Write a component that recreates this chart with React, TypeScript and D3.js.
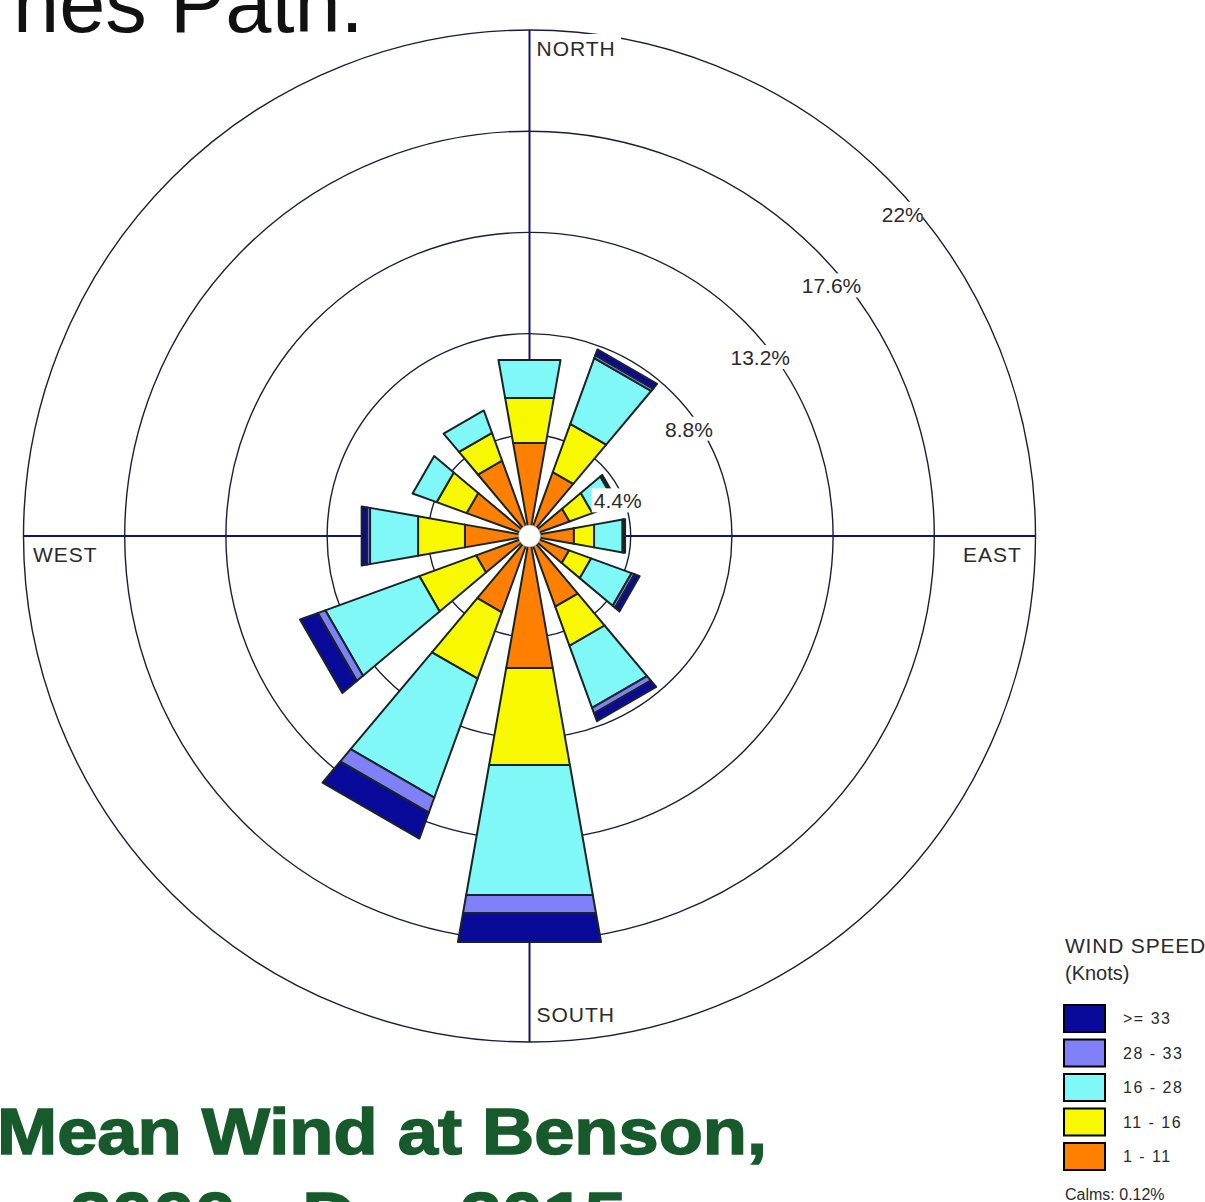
import React from 'react';
import * as d3 from 'd3';

// ---- data ----
const directions = [0, 30, 60, 90, 120, 150, 180, 210, 240, 270, 300, 330];
const speedClassLabels = ['1 - 11', '11 - 16', '16 - 28', '28 - 33', '>= 33'];
const speed1to11 = [4.11, 2.96, 1.85, 1.96, 1.83, 3.27, 5.83, 3.53, 2.47, 2.85, 2.91, 3.49];
const speed11to16 = [1.98, 2.23, 1.06, 0.89, 1.02, 1.81, 4.28, 3.07, 2.63, 2.07, 1.39, 1.28];
const speed16to28 = [1.68, 3.04, 1.11, 1.26, 1.87, 2.87, 5.74, 5.5, 4.35, 2.12, 1.11, 1.04];
const speed28to33 = [0, 0.14, 0.04, 0.05, 0.14, 0.26, 0.79, 0.7, 0.35, 0.13, 0, 0];
const speed33plus = [0, 0.26, 0.07, 0.06, 0.24, 0.36, 1.28, 1.2, 0.82, 0.24, 0, 0];
const ringTicks = [4.4, 8.8, 13.2, 17.6, 22];
const ringLabels = ['4.4%', '8.8%', '13.2%', '17.6%', '22%'];
const compassLabels = ['NORTH', 'EAST', 'SOUTH', 'WEST'];
const calmsPct = 0.12;
const classColors = ['#ff8000', '#f8f800', '#80f8f8', '#8080f8', '#0a0a9a'];

export default function App() {
  const W = 1205, H = 1202;
  const cx = 529.5, cy = 536, R = 506;
  const rScale = d3.scaleLinear().domain([0, 22]).range([0, R]);
  const half = (10 * Math.PI) / 180;
  const keys = ['c0', 'c1', 'c2', 'c3', 'c4'];
  const table = directions.map((d, i) => ({
    dir: d,
    c0: speed1to11[i],
    c1: speed11to16[i],
    c2: speed16to28[i],
    c3: speed28to33[i],
    c4: speed33plus[i],
  }));
  const stacked = d3.stack<any>().keys(keys)(table);
  const pt = (a: number, r: number): [number, number] => [cx + r * Math.sin(a), cy - r * Math.cos(a)];
  const line = d3.line();
  const bandPath = (dirDeg: number, v0: number, v1: number) => {
    const a = (dirDeg * Math.PI) / 180;
    const r0 = rScale(v0), r1 = rScale(v1);
    return line([pt(a - half, r0), pt(a - half, r1), pt(a + half, r1), pt(a + half, r0)]) + 'Z';
  };

  const font = "'Liberation Sans', Arial, sans-serif";
  const outline = '#1a2424';

  const compassPos: Record<string, { x: number; y: number }> = {
    NORTH: { x: cx + 7, y: cy - R + 26 },
    EAST: { x: 963, y: cy + 26 },
    SOUTH: { x: cx + 7, y: cy + R - 20 },
    WEST: { x: 33, y: cy + 26 },
  };

  return (
    <svg width={W} height={H} style={{ position: 'absolute', left: 0, top: 0, background: '#fff' }}>
      <rect x={0} y={0} width={W} height={H} fill="#fff" />
      {/* grid rings */}
      {ringTicks.map((t) => (
        <circle key={t} cx={cx} cy={cy} r={rScale(t)} fill="none" stroke="#1c1c38" strokeWidth={1.4} />
      ))}
      {/* axes */}
      <line x1={cx} y1={cy - R} x2={cx} y2={cy + R} stroke="#14146a" strokeWidth={2} />
      <line x1={cx - R} y1={cy} x2={cx + R} y2={cy} stroke="#14146a" strokeWidth={2} />

      {/* petals */}
      {table.map((row, i) => (
        <g key={row.dir}>
          {stacked.map((layer, k) => {
            const [v0, v1] = layer[i];
            if (v1 - v0 <= 0) return null;
            return (
              <path
                key={k}
                d={bandPath(row.dir, v0, v1)}
                fill={classColors[k]}
                stroke={outline}
                strokeWidth={2}
                strokeLinejoin="round"
              />
            );
          })}
        </g>
      ))}
      {/* calms circle */}
      <circle cx={cx} cy={cy} r={11} fill="#fff" stroke="#999" strokeWidth={0.6} />

      {/* ring labels */}
      {ringTicks.map((t, i) => {
        const r = rScale(t);
        const x = cx + 17 + 0.704 * r;
        const y = cy + 36 - 0.708 * r;
        const w = ringLabels[i].length * 11.5 + 6;
        return (
          <g key={t}>
            <rect x={x - w / 2} y={y - 12} width={w} height={24} fill="#fff" />
            <text x={x} y={y + 8} textAnchor="middle" fontFamily={font} fontSize={21} fill="#2a2a2a">
              {ringLabels[i]}
            </text>
          </g>
        );
      })}

      {/* compass labels */}
      {compassLabels.map((c) => {
        const p = compassPos[c];
        return (
          <g key={c}>
            <rect x={p.x - 2} y={p.y - 22} width={c.length * 16.5 + 4} height={27} fill="#fff" />
            <text x={p.x} y={p.y} fontFamily={font} fontSize={21} letterSpacing={1} fill="#2a2a2a">
              {c}
            </text>
          </g>
        );
      })}

      {/* legend */}
      <text x={1065} y={953} fontFamily={font} fontSize={21} letterSpacing={0.8} fill="#2a2a2a">WIND SPEED</text>
      <text x={1065} y={980} fontFamily={font} fontSize={20} fill="#2a2a2a">(Knots)</text>
      {speedClassLabels
        .map((lab, k) => ({ lab, k }))
        .reverse()
        .map(({ lab, k }, j) => {
          const y = 1005 + j * 34.5;
          return (
            <g key={lab}>
              <rect x={1064} y={y} width={41} height={27} fill={classColors[k]} stroke="#000" strokeWidth={2} />
              <text x={1123} y={y + 19} fontFamily={font} fontSize={16} letterSpacing={1.5} fill="#2a2a2a">
                {lab}
              </text>
            </g>
          );
        })}
      <text x={1065} y={1200} fontFamily={font} fontSize={16} fill="#2a2a2a">{`Calms: ${calmsPct}%`}</text>

      {/* slide titles */}
      <text x={13} y={32} fontFamily={font} fontSize={83} fill="#111">nes Path.</text>
      <text
        x={-3}
        y={1154}
        fontFamily={font}
        fontWeight="bold"
        fontSize={64}
        fill="#175a2b"
        stroke="#175a2b"
        strokeWidth={1.5}
        textLength={770}
        lengthAdjust="spacingAndGlyphs"
      >
        Mean Wind at Benson,
      </text>
      <text
        x={70}
        y={1238}
        fontFamily={font}
        fontWeight="bold"
        fontSize={64}
        fill="#175a2b"
        stroke="#175a2b"
        strokeWidth={1.5}
        textLength={556}
        lengthAdjust="spacingAndGlyphs"
      >
        2000 - Dec 2015
      </text>
    </svg>
  );
}
